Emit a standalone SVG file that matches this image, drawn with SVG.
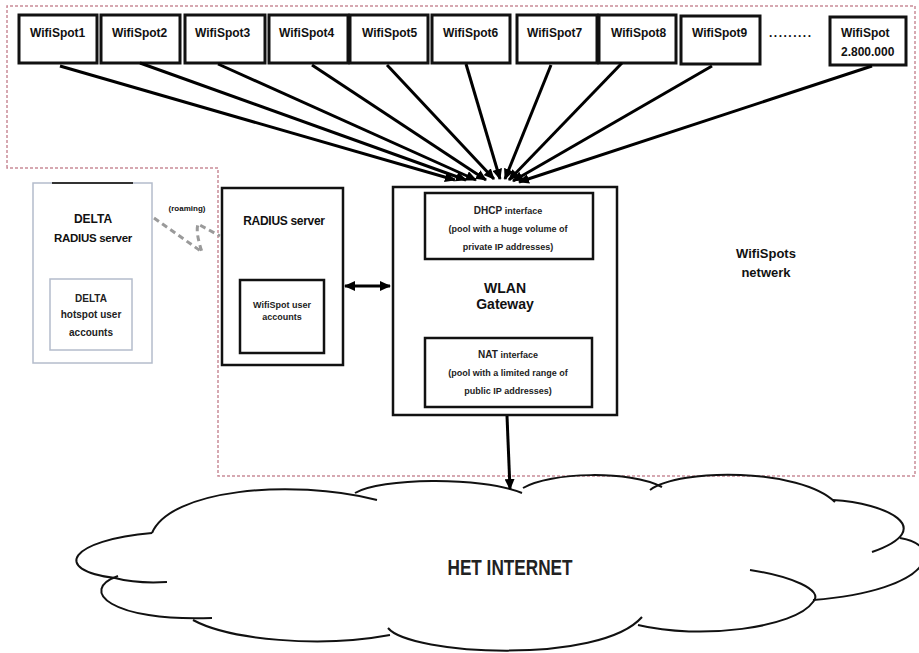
<svg xmlns="http://www.w3.org/2000/svg" width="919" height="653" viewBox="0 0 919 653">
<defs>
<marker id="ah" markerUnits="userSpaceOnUse" markerWidth="12" markerHeight="10" refX="10" refY="5" orient="auto-start-reverse">
<path d="M0,0 L11,5 L0,10 z" fill="#000"/>
</marker>
<style>
text{font-family:"Liberation Sans",Arial,sans-serif;fill:#111}
.spot{fill:#fff;stroke:#111;stroke-width:3}
.lbl{font-size:12px;font-weight:bold}
.box{fill:#fff;stroke:#111;stroke-width:2.5}
.sm{font-size:9px;font-weight:bold;text-anchor:middle;fill:#222}
.mid{text-anchor:middle}
.wire{stroke:#000;stroke-width:3;fill:none;marker-end:url(#ah)}
.cloud{fill:none;stroke:#111;stroke-width:2}
</style>
</defs>
<rect width="919" height="653" fill="#fff"/>

<g id="boundary">
<path d="M7,168 L7,6 L915,6 L915,476 L218,476 L218,168 Z" fill="none" stroke="#c98c98" stroke-width="1.5" stroke-dasharray="3,2"/>
<text x="766" y="258" class="mid" style="font-size:13px;font-weight:bold">WifiSpots</text>
<text x="766" y="277" class="mid" style="font-size:13px;font-weight:bold">netwerk</text>
</g>

<g id="spot1"><rect class="spot" x="19" y="15" width="78" height="48"/><text class="lbl" x="30" y="37">WifiSpot1</text></g>
<g id="spot2"><rect class="spot" x="101" y="15" width="79" height="48"/><text class="lbl" x="112" y="37">WifiSpot2</text></g>
<g id="spot3"><rect class="spot" x="185" y="15" width="80" height="48"/><text class="lbl" x="195" y="37">WifiSpot3</text></g>
<g id="spot4"><rect class="spot" x="269" y="15" width="79" height="48"/><text class="lbl" x="279" y="37">WifiSpot4</text></g>
<g id="spot5"><rect class="spot" x="350" y="15" width="78" height="48"/><text class="lbl" x="362" y="37">WifiSpot5</text></g>
<g id="spot6"><rect class="spot" x="432" y="15" width="78" height="48"/><text class="lbl" x="443" y="37">WifiSpot6</text></g>
<g id="spot7"><rect class="spot" x="517" y="15" width="80" height="48"/><text class="lbl" x="527" y="37">WifiSpot7</text></g>
<g id="spot8"><rect class="spot" x="599" y="15" width="77" height="48"/><text class="lbl" x="611" y="37">WifiSpot8</text></g>
<g id="spot9"><rect class="spot" x="681" y="16" width="79" height="48"/><text class="lbl" x="692" y="37">WifiSpot9</text></g>
<g id="dots"><text class="lbl" x="769" y="37" style="letter-spacing:1.5px">.........</text></g>
<g id="spot2800000"><rect class="spot" x="830" y="17" width="76" height="48"/><text class="lbl" x="841" y="37">WifiSpot</text><text class="lbl" x="841" y="56">2.800.000</text></g>

<g id="delta">
<rect x="33" y="183" width="119" height="180" fill="#fff" stroke="#b4bccb" stroke-width="1.5"/>
<line x1="52" y1="183" x2="133" y2="183" stroke="#333" stroke-width="2"/>
<text x="93" y="223" class="mid" style="font-size:12px;font-weight:bold">DELTA</text>
<text x="93" y="242" class="mid" style="font-size:11.5px;font-weight:bold;letter-spacing:-0.3px">RADIUS server</text>
<rect x="50" y="279" width="82" height="71" fill="#fff" stroke="#b4bccb" stroke-width="1.5"/>
<text x="91" y="302" class="sm" style="font-size:10px">DELTA</text>
<text x="91" y="318" class="sm" style="font-size:10px">hotspot user</text>
<text x="91" y="336" class="sm" style="font-size:10px">accounts</text>
</g>

<g id="radius">
<rect class="box" x="222" y="188" width="121" height="177"/>
<text x="284" y="225" class="mid" style="font-size:12px;font-weight:bold;letter-spacing:-0.3px">RADIUS server</text>
<rect class="box" x="240" y="280" width="84" height="73"/>
<text x="282" y="308" class="sm">WifiSpot user</text>
<text x="282" y="320" class="sm">accounts</text>
</g>

<g id="gateway">
<rect class="box" x="393" y="187" width="224" height="228"/>
<rect class="box" x="425" y="193" width="168" height="66"/>
<text x="508" y="214" class="sm"><tspan style="font-size:10px">DHCP</tspan> interface</text>
<text x="508" y="232" class="sm">(pool with a huge volume of</text>
<text x="508" y="250" class="sm">private IP addresses)</text>
<text x="505" y="293" class="mid" style="font-size:14px;font-weight:bold">WLAN</text>
<text x="505" y="309" class="mid" style="font-size:14px;font-weight:bold">Gateway</text>
<rect class="box" x="425" y="338" width="167" height="69"/>
<text x="508" y="358" class="sm"><tspan style="font-size:10px">NAT</tspan> interface</text>
<text x="508" y="376" class="sm">(pool with a limited range of</text>
<text x="508" y="394" class="sm">public IP addresses)</text>
</g>

<g id="internet">
<path class="cloud" d="M152,533 C170,490 290,478 377,500"/>
<path class="cloud" d="M355,493 C380,478 480,476 522,493"/>
<path class="cloud" d="M523,488 C550,472 630,470 662,487"/>
<path class="cloud" d="M650,490 C680,468 800,468 835,502"/>
<path class="cloud" d="M833,500 C885,503 940,528 872,552"/>
<path class="cloud" d="M900,538 C945,545 935,590 813,600"/>
<path class="cloud" d="M750,570 C790,576 825,590 813,602 C795,628 700,640 638,625"/>
<path class="cloud" d="M388,628 C410,655 600,665 642,617"/>
<path class="cloud" d="M193,620 C230,640 320,648 390,635"/>
<path class="cloud" d="M118,576 C78,590 110,622 212,618"/>
<path class="cloud" d="M152,533 C70,540 50,570 115,578 C130,582 150,583 167,582"/>
<text x="510" y="575" class="mid" style="font-size:22px;font-weight:bold;fill:#222" textLength="125" lengthAdjust="spacingAndGlyphs">HET INTERNET</text>
</g>

<g id="connectors">
<line class="wire" x1="60" y1="66" x2="455" y2="180"/>
<line class="wire" x1="140" y1="63" x2="466" y2="180"/>
<line class="wire" x1="218" y1="64" x2="476" y2="180"/>
<line class="wire" x1="312" y1="65" x2="486" y2="180"/>
<line class="wire" x1="387" y1="65" x2="494" y2="179"/>
<line class="wire" x1="466" y1="64" x2="500" y2="179"/>
<line class="wire" x1="551" y1="65" x2="505" y2="179"/>
<line class="wire" x1="622" y1="63" x2="509" y2="180"/>
<line class="wire" x1="712" y1="66" x2="513" y2="181"/>
<line class="wire" x1="872" y1="66" x2="519" y2="182"/>
<line x1="345" y1="286" x2="390" y2="286" stroke="#000" stroke-width="3" marker-start="url(#ah)" marker-end="url(#ah)"/>
<line class="wire" x1="507" y1="416" x2="510" y2="489"/>
<path d="M154,218 L202,252 C198,240 196,230 198,224 L220,236" fill="none" stroke="#9a9a9a" stroke-width="3" stroke-dasharray="6,4"/>
<text x="187" y="211" class="mid" style="font-size:8px;font-weight:bold">(roaming)</text>
</g>
</svg>
